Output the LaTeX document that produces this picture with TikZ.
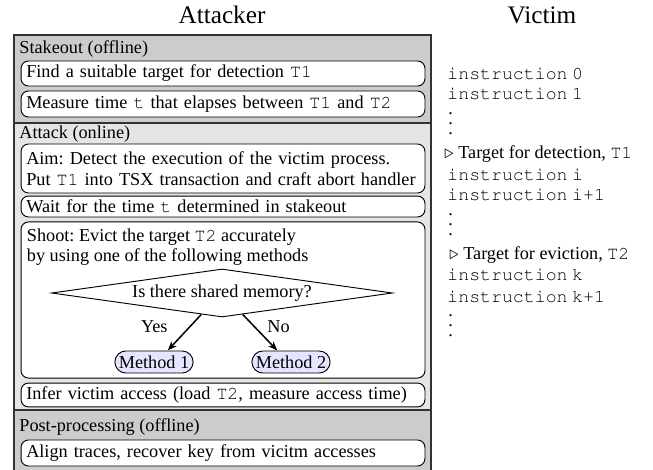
\documentclass[tikz,border=0pt]{standalone}
\usepackage{fontspec}
\setmainfont{Liberation Serif}
\usetikzlibrary{shapes.geometric,shapes.misc,arrows.meta}
\newcommand{\cour}[1]{{\fontencoding{T1}\fontfamily{pcr}\selectfont #1}}
\frenchspacing

\begin{document}
\begin{tikzpicture}[x=0.535pt, y=-0.535pt, font=\fontsize{9.75}{10.9}\selectfont,
	phaseBand/.style={rectangle, draw=black!80, line width=0.6pt, minimum width=223.1pt},
	phaseLabel/.style={anchor=west, inner sep=0pt},
	stepBox/.style={rectangle, rounded corners=4pt, draw, fill=white, line width=0.5pt, minimum width=216.1pt, text width=210.5pt, inner xsep=2.8pt, inner ysep=1pt, align=left},
	methodBox/.style={rounded rectangle, draw, fill=blue!10, line width=0.5pt, inner xsep=1pt, inner ysep=0pt, minimum height=11.8pt},
	victimText/.style={anchor=west, inner sep=0pt},
	dotText/.style={anchor=west, inner sep=0pt},
	titleText/.style={font=\fontsize{13.5}{16}\selectfont}]
		\useasboundingbox (0,0) rectangle (653,470);
		\clip (0,0) rectangle (653,470);

		\node[titleText](attackerTitle) at (222,15){Attacker};
		\node[titleText](victimTitle) at (542,15){Victim};

		% phases of the attacker
		\node[phaseBand, fill=black!20, minimum height=47.1pt](stakeoutBand) at (222.5,79){};
		\node[phaseBand, fill=black!10, minimum height=153.5pt](attackBand) at (222.5,266.5){};
		\node[phaseBand, fill=black!20, minimum height=34.8pt](postBand) at (222.5,442.5){};

		\node[phaseLabel](stakeoutLabel) at (19,49){Stakeout (offline)};
		\node[phaseLabel](attackLabel) at (19,134){Attack (online)};
		\node[phaseLabel](postLabel) at (19,427){Post-processing (offline)};

		% steps
		\node[stepBox, minimum height=13.4pt](findBox) at (223,73.5){Find a suitable target for detection \cour{T1}};
		\node[stepBox, minimum height=13.9pt](measureBox) at (223,104){Measure time \cour{t} that elapses between \cour{T1} and \cour{T2}};
		\node[stepBox, minimum height=26.2pt](aimBox) at (223,168.5){Aim: Detect the execution of the victim process.\\Put \cour{T1} into TSX transaction and craft abort handler};
		\node[stepBox, minimum height=11.2pt](waitBox) at (223,206.5){Wait for the time \cour{t} determined in stakeout};
		\node[stepBox, minimum height=83.5pt](shootBox) at (223,300){};
		\node[anchor=north west, inner sep=0pt, align=left](shootText) at ([shift={(3.2pt,-3.8pt)}]shootBox.north west){Shoot: Evict the target \cour{T2} accurately\\by using one of the following methods};
		\node[stepBox, minimum height=12.8pt](inferBox) at (223,395){Infer victim access (load \cour{T2}, measure access time)};
		\node[stepBox, minimum height=13.9pt](alignBox) at (223,453){Align traces, recover key from vicitm accesses};

		% decision
		\node[diamond, draw, fill=white, line width=0.5pt, aspect=7.1, inner sep=0pt, minimum width=182.4pt, minimum height=25.7pt](sharedDiamond) at (222,293){Is there shared memory?};
		\node[methodBox](method1Box) at (154,362){Method 1};
		\node[methodBox](method2Box) at (291,362){Method 2};

		\draw[-{Stealth[length=5pt]}, line width=0.8pt] (sharedDiamond.226) -- node[pos=0.35, left=8pt]{Yes} (method1Box.40);
		\draw[-{Stealth[length=5pt]}, line width=0.8pt] (sharedDiamond.314) -- node[pos=0.35, right=3pt]{No} (method2Box.140);

		% victim code
		\node[victimText](instr0) at (447,74){\cour{instruction} \cour{0}};
		\node[victimText](instr1) at (447,94){\cour{instruction} \cour{1}};
		\foreach \k in {0,1,2}
			\node[dotText](dotsOne\k) at (448,114+10*\k){.};
		\node[victimText](detectTarget) at (444,154){$\triangleright$ Target for detection, \cour{T1}};
		\node[victimText](instrI) at (447,175){\cour{instruction} \cour{i}};
		\node[victimText](instrIOne) at (447,195){\cour{instruction} \cour{i+1}};
		\foreach \k in {0,1,2}
			\node[dotText](dotsTwo\k) at (448,215+10*\k){.};
		\node[victimText](evictTarget) at (449,255){$\triangleright$ Target for eviction, \cour{T2}};
		\node[victimText](instrK) at (447,275){\cour{instruction} \cour{k}};
		\node[victimText](instrKOne) at (447,297){\cour{instruction} \cour{k+1}};
		\foreach \k in {0,1,2}
			\node[dotText](dotsThree\k) at (448,316+10*\k){.};

	\end{tikzpicture}
\end{document}
